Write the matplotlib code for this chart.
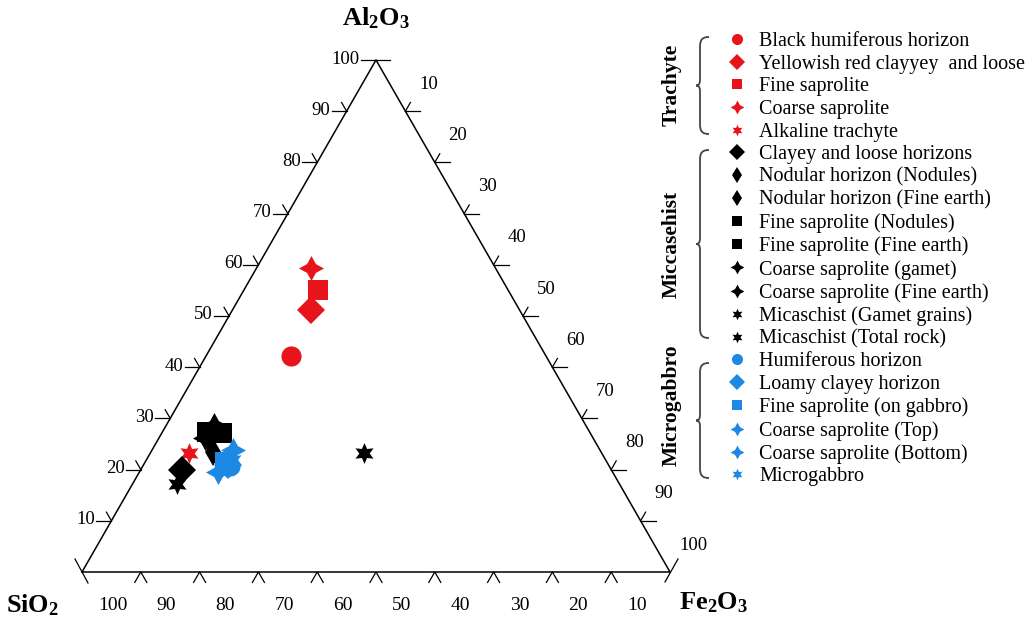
import numpy as np
import matplotlib.pyplot as plt
from matplotlib.path import Path
from matplotlib.patches import PathPatch

plt.rcParams['font.family'] = ['Liberation Serif', 'DejaVu Serif']
plt.rcParams['mathtext.fontset'] = 'custom'
plt.rcParams['mathtext.rm'] = 'Liberation Serif'
plt.rcParams['mathtext.bf'] = 'Liberation Serif:bold'

# samples (wt %)
labels = ['Black humiferous horizon', 'Yellowish red clayyey  and loose', 'Fine saprolite',
          'Coarse saprolite', 'Alkaline trachyte',
          'Clayey and loose horizons', 'Nodular horizon (Nodules)', 'Nodular horizon (Fine earth)',
          'Fine saprolite (Nodules)', 'Fine saprolite (Fine earth)', 'Coarse saprolite (gamet)',
          'Coarse saprolite (Fine earth)', 'Micaschist (Gamet grains)', 'Micaschist (Total rock)',
          'Humiferous horizon', 'Loamy clayey horizon', 'Fine saprolite (on gabbro)',
          'Coarse saprolite (Top)', 'Coarse saprolite (Bottom)', 'Microgabbro']
sio2 = [43.4, 35.5, 32.3, 31.4, 70.2,
        73.0, 66.0, 65.3, 62.6, 65.1, 63.2, 66.0, 40.4, 75.2,
        64.5, 64.7, 64.9, 62.4, 67.1, 63.5]
al2o3 = [42.2, 51.2, 55.1, 59.4, 23.2,
         19.9, 23.4, 25.8, 27.1, 27.3, 28.7, 26.2, 23.2, 17.2,
         20.7, 20.9, 21.5, 23.8, 19.5, 21.9]
fe2o3 = [14.4, 13.3, 12.6, 9.2, 6.6,
         7.1, 10.6, 8.9, 10.3, 7.6, 8.1, 7.8, 36.4, 7.6,
         14.8, 14.4, 13.6, 13.8, 13.4, 14.6]

groups = ['Trachyte', 'Miccasehist', 'Microgabbro']

red = '#e8141b'
blue = '#1e88e5'
colors = [red] * 5 + ['black'] * 9 + [blue] * 6
star4 = (4, 1, 0)
star6 = (6, 1, 0)
markers = ['o', 'D', 's', star4, star6,
           'D', 'd', 'd', 's', 's', star4, star4, star6, star6,
           'o', 'D', 's', star4, star4, star6]
msize = {'o': 14.5, 'D': 14, 'd': 14, 's': 14, star4: 18, star6: 15}

W, H = 1033, 621
fig = plt.figure(figsize=(W / 100, H / 100), dpi=100)
ax = fig.add_axes([82 / W, 49 / H, 588 / W, 512 / H])
h = np.sqrt(3) / 2
ax.set_xlim(0, 1)
ax.set_ylim(0, h)
ax.axis('off')
dx, dy = 1 / 588, h / 512


def tern(si, al, fe):
    t = si + al + fe
    return (fe + al / 2) / t, al / t * h


# triangle frame
ax.plot([0, 1, 0.5, 0], [0, 0, h, 0], color='black', lw=1.1, clip_on=False)
kw = dict(color='black', lw=0.9, clip_on=False)
fs = 13.5
for v in range(10, 101, 10):
    # left side: Al2O3
    x0, y0 = tern(100 - v, v, 0)
    ax.plot([x0 - 15 * dx, x0 + (14 * dx if v == 100 else 0)], [y0, y0], **kw)
    if v < 100:
        ax.plot([x0, x0 - 5 * dx], [y0, y0 + 8.7 * dy], **kw)
    ax.text(x0 - 16 * dx, y0 + 1 * dy, str(v), ha='right', va='center', fontsize=fs)
    # right side: Fe2O3
    x0, y0 = tern(0, 100 - v, v)
    if v < 100:
        ax.plot([x0, x0 + 15 * dx], [y0, y0], **kw)
        ax.plot([x0, x0 + 5 * dx], [y0, y0 + 8.7 * dy], **kw)
    ax.text(x0 + 23 * dx, y0 + 27 * dy, str(v), ha='center', va='center', fontsize=fs)
    # bottom: SiO2
    x0, y0 = tern(v, 0, 100 - v)
    if v < 100:
        ax.plot([x0 - 6 * dx, x0, x0 + 6 * dx], [y0 - 10.4 * dy, y0, y0 - 10.4 * dy], **kw)
    ax.text(x0 + 16 * dx, y0 - 33 * dy, str(v), ha='left', va='center', fontsize=14)

# corner ticks
ax.plot([-7 * dx, 6 * dx], [13 * dy, -11 * dy], **kw)
ax.plot([1 + 8 * dx, 1 - 5 * dx], [13 * dy, -10 * dy], **kw)

ax.text(0.5, h + 42 * dy, r'$\mathbf{Al_2O_3}$', ha='center', va='center', fontsize=19)
ax.text(-49 * dx, -33 * dy, r'$\mathbf{SiO_2}$', ha='center', va='center', fontsize=19)
ax.text(1 + 44 * dx, -31 * dy, r'$\mathbf{Fe_2O_3}$', ha='center', va='center', fontsize=19)

# samples
for i in range(len(labels)):
    x, y = tern(sio2[i], al2o3[i], fe2o3[i])
    ax.plot(x, y, linestyle='none', marker=markers[i], color=colors[i],
            markersize=msize[markers[i]], markeredgewidth=0, label=labels[i], clip_on=False)

handles, labs = ax.get_legend_handles_labels()
fig.legend(handles, labs, loc='upper left', bbox_to_anchor=(727 / W, 1 - 32 / H),
           frameon=False, fontsize=14.5, markerscale=0.55, handlelength=1.0,
           handletextpad=0.6, labelspacing=0.175, borderpad=0, borderaxespad=0)

# group labels with braces
spans = [(37, 134), (150, 338), (363, 478)]
label_y = [85, 244, 405]


def brace(x, yt, yb):
    ym = (yt + yb) / 2
    pts = [(x + 9, yt), (x + 2, yt), (x, yt + 3), (x, yt + 10),
           (x, ym - 6),
           (x, ym - 2), (x - 1, ym), (x - 4, ym),
           (x - 1, ym), (x, ym + 2), (x, ym + 6),
           (x, yb - 10),
           (x, yb - 3), (x + 2, yb), (x + 9, yb)]
    codes = [Path.MOVETO] + [Path.CURVE4] * 3 + [Path.LINETO] + [Path.CURVE4] * 6 + \
            [Path.LINETO] + [Path.CURVE4] * 3
    verts = [(px / W, 1 - py / H) for px, py in pts]
    fig.patches.append(PathPatch(Path(verts, codes), fill=False, edgecolor='#444444',
                                 lw=1.3, transform=fig.transFigure))


for g, (yt, yb), ly in zip(groups, spans, label_y):
    fig.text(672 / W, 1 - ly / H, g, rotation=90, ha='center', va='center',
             fontsize=15.5, fontweight='bold')
    brace(700, yt, yb)

fig.savefig('out.png', dpi=100)
